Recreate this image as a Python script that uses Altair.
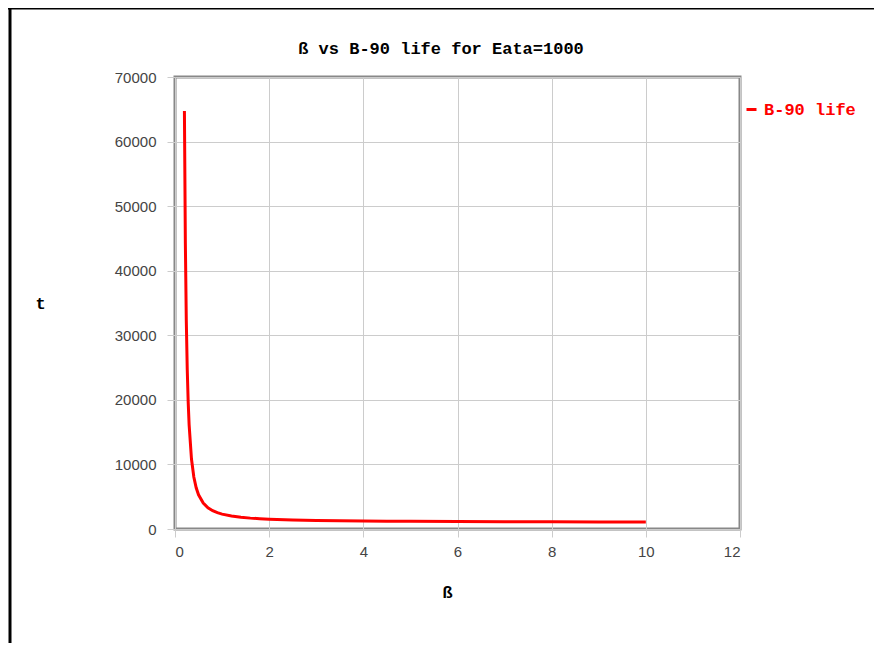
import altair as alt
import pandas as pd

# beta values and B-90 life (t) (Eata = 1000)
beta = [0.2, 0.22, 0.24, 0.26, 0.28, 0.3, 0.35, 0.4, 0.45, 0.5, 0.6, 0.7, 0.8, 0.9,
        1.0, 1.2, 1.4, 1.6, 1.8, 2.0, 2.5, 3.0, 3.5, 4.0, 4.5, 5.0, 6.0, 7.0, 8.0, 9.0, 10.0]
life = [64730, 44300, 32300, 24730, 19660, 16120, 10840, 8045, 6381, 5302, 4015, 3292, 2836, 2526,
        2303, 2004, 1814, 1684, 1589, 1517, 1396, 1321, 1269, 1232, 1204, 1182, 1149, 1127, 1110, 1097, 1087]
series_name = "B-90 life"
x_ticks = [0, 2, 4, 6, 8, 10, 12]
y_ticks = [0, 10000, 20000, 30000, 40000, 50000, 60000, 70000]
title_text = "ß vs B-90 life for Eata=1000"
x_title = "ß"
y_title = "t"

df = pd.DataFrame({"beta": beta, "t": life, "series": [series_name] * len(beta)})
one = pd.DataFrame({"label": [title_text]})

MONO = "Liberation Mono"

line = alt.Chart(df).mark_line(strokeWidth=3, clip=False).encode(
    x=alt.X("beta:Q", scale=alt.Scale(domain=[0, 12], nice=False),
            axis=alt.Axis(values=x_ticks, title=x_title, titleAngle=0, labelPadding=7,
                          titleX=272, titleY=63, titleBaseline="middle", titleAlign="center")),
    y=alt.Y("t:Q", scale=alt.Scale(domain=[0, 70000], nice=False),
            axis=alt.Axis(values=y_ticks, format="d", title=y_title, titleAngle=0, labelPadding=11,
                          titleX=-135, titleY=226, titleBaseline="middle", titleAlign="center")),
    color=alt.Color("series:N",
                    scale=alt.Scale(domain=[series_name], range=["#ff0000"]),
                    legend=alt.Legend(title=None, orient="none", legendX=568, legendY=24,
                                      symbolType="stroke", symbolStrokeWidth=3, symbolSize=100,
                                      labelFont=MONO, labelFontWeight="bold", labelFontSize=17,
                                      labelColor="#ff0000", labelOffset=4)),
    order=alt.Order("beta:Q"),
)

title_mark = alt.Chart(one).mark_text(
    font=MONO, fontWeight="bold", fontSize=17, color="black",
    align="center", baseline="middle"
).encode(text="label:N", x=alt.value(266), y=alt.value(-28))

top_border = alt.Chart(one).mark_rule(color="black", strokeWidth=3).encode(
    x=alt.value(-167), x2=alt.value(710), y=alt.value(-69)
)
left_border = alt.Chart(one).mark_rule(color="black", strokeWidth=3).encode(
    x=alt.value(-165), y=alt.value(-70), y2=alt.value(580)
)

chart = alt.layer(line, title_mark, top_border, left_border).properties(
    width=565, height=452,
    background="white",
    autosize=alt.AutoSizeParams(type="none"),
    padding={"left": 167, "top": 69, "right": 134, "bottom": 114},
).configure_view(
    stroke="#888888", strokeWidth=3
).configure_axis(
    domain=False, grid=True, gridColor="#cccccc", gridWidth=1,
    tickColor="#cccccc", tickSize=8, tickWidth=1,
    labelFont="Liberation Sans", labelFontSize=15, labelColor="#444444",
    titleFont=MONO, titleFontWeight="bold", titleFontSize=17, titleColor="black",
)

chart.save("out.html", embed_options={"renderer": "svg", "actions": False})
